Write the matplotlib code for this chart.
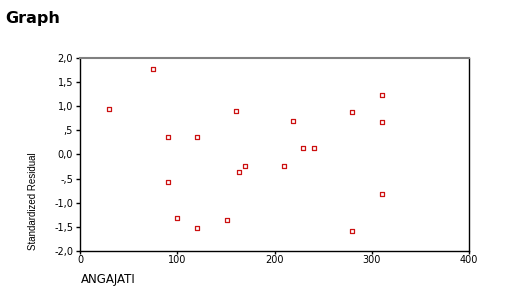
import matplotlib.pyplot as plt
from matplotlib.ticker import FixedLocator

# values
angajati = [30, 75, 90, 120, 160, 219, 229, 240, 280, 310, 310,
            90, 100, 120, 170, 163, 210, 151, 280, 310]
resid = [0.94, 1.77, 0.36, 0.36, 0.90, 0.69, 0.13, 0.13, 0.88, 1.23, 0.67,
         -0.57, -1.32, -1.52, -0.23, -0.37, -0.23, -1.36, -1.58, -0.82]
xticks = [0, 100, 200, 300, 400]
yticks = [2.0, 1.5, 1.0, 0.5, 0.0, -0.5, -1.0, -1.5, -2.0]
ylabels = ['2,0', '1,5', '1,0', ',5', '0,0', '-,5', '-1,0', '-1,5', '-2,0']

plt.rcParams['font.family'] = ['DejaVu Sans']

fig = plt.figure(figsize=(5.1, 2.9), dpi=100)
ax = fig.add_axes([0.157, 0.1345, 0.763, 0.6655])

ax.scatter(angajati, resid, marker='s', s=8, facecolors='white',
           edgecolors='#cc1010', linewidths=0.9, zorder=3)

ax.set_xlim(0, 400)
ax.set_ylim(-2, 2)
ax.xaxis.set_major_locator(FixedLocator(xticks))
ax.set_yticks(yticks)
ax.set_yticklabels(ylabels)
ax.tick_params(labelsize=7, length=3, width=1, pad=2, colors='black')
ax.tick_params(axis='x', length=2, pad=1)

ax.spines['top'].set_color('#808080')
ax.spines['top'].set_linewidth(1.5)
for s in ['left', 'bottom', 'right']:
    ax.spines[s].set_linewidth(1)

fig.text(0.01, 0.935, 'Graph', fontsize=11.5, fontweight='bold', va='center')
fig.text(0.158, 0.035, 'ANGAJATI', fontsize=8.5, va='center', ha='left')
fig.text(0.065, 0.138, 'Standardized Residual', fontsize=7, rotation=90,
         va='bottom', ha='center', family=['Liberation Sans'])

fig.savefig('out.png', dpi=100)
